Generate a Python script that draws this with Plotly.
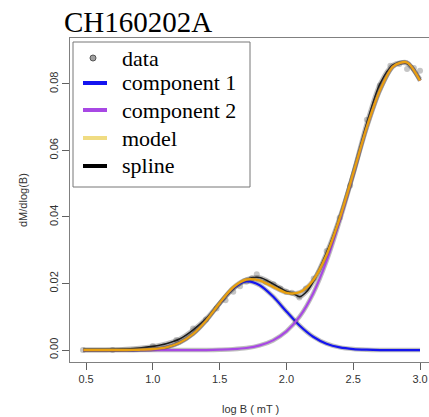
import plotly.graph_objects as go

# ---------------- data ----------------
data_x = [0.477, 0.699, 1.0, 1.176, 1.301, 1.398, 1.477, 1.544, 1.602, 1.653, 1.699,
          1.740, 1.778, 1.845, 1.903, 1.954, 2.0, 2.041, 2.097, 2.146, 2.204, 2.301,
          2.398, 2.477, 2.602, 2.699, 2.778, 2.845, 2.903, 2.954, 3.0]
data_y = [0.0, 0.0, 0.0012, 0.0030, 0.0065, 0.0092, 0.0125, 0.0150, 0.0175, 0.0192, 0.0205,
          0.0215, 0.0228, 0.0205, 0.0198, 0.0185, 0.0175, 0.0172, 0.0158, 0.0185, 0.0215, 0.0298,
          0.0398, 0.0495, 0.0692, 0.0795, 0.0855, 0.0860, 0.0845, 0.0848, 0.0840]

curve_x = [0.48, 0.6, 0.7, 0.8, 0.9, 1.0, 1.1, 1.2, 1.3, 1.4, 1.5, 1.6, 1.7, 1.8, 1.9,
           2.0, 2.1, 2.2, 2.3, 2.4, 2.5, 2.6, 2.7, 2.8, 2.9, 3.0]
comp1_y = [0.0, 0.0, 0.0, 0.0, 0.00007, 0.00026, 0.0008, 0.0022, 0.0048, 0.0089, 0.0140,
           0.0185, 0.0206, 0.0195, 0.0161, 0.0116, 0.0073, 0.0040, 0.0019, 0.0008, 0.0003,
           0.0001, 0.0, 0.0, 0.0, 0.0]
comp2_y = [0.0, 0.0, 0.0, 0.0, 0.0, 0.0, 0.0, 0.0, 0.0, 0.0, 0.0001,
           0.00025, 0.0006, 0.0014, 0.0029, 0.0056, 0.0101, 0.0170, 0.0267, 0.0390, 0.0528,
           0.0667, 0.0781, 0.0853, 0.0865, 0.0810]
model_y = [0.0, 0.0, 0.0, 0.0, 0.0001, 0.0003, 0.0008, 0.0022, 0.0048, 0.0089, 0.0141,
           0.0188, 0.0212, 0.0209, 0.0190, 0.0172, 0.0174, 0.0210, 0.0286, 0.0398, 0.0531,
           0.0668, 0.0781, 0.0853, 0.0865, 0.0810]

spline_x = [0.48, 0.6, 0.7, 0.8, 0.9, 1.0, 1.1, 1.2, 1.3, 1.4, 1.5, 1.6, 1.7, 1.8, 1.9,
            2.0, 2.05, 2.1, 2.15, 2.2, 2.3, 2.4, 2.5, 2.6, 2.7, 2.8, 2.9, 3.0]
spline_y = [0.0, 0.0, 0.0001, 0.0003, 0.0006, 0.0011, 0.0019, 0.0033, 0.0060, 0.0095, 0.0140,
            0.0183, 0.0212, 0.0218, 0.0199, 0.0176, 0.0170, 0.0160, 0.0175, 0.0205, 0.0292,
            0.0400, 0.0530, 0.0680, 0.0800, 0.0858, 0.0862, 0.0815]

x_ticks = [0.5, 1.0, 1.5, 2.0, 2.5, 3.0]
y_ticks = [0.00, 0.02, 0.04, 0.06, 0.08]
legend_labels = ["data", "component 1", "component 2", "model", "spline"]

# ---------------- figure ----------------
W, H = 429, 417
ML, MR, MT, MB = 70, 0, 38, 55
PW, PH = W - ML - MR, H - MT - MB

def px(xp):
    return (xp - ML) / PW

def py(yp):
    return (H - MB - yp) / PH

HALO = "rgba(70,70,70,0.35)"
BLUE = "#1414F0"
PURPLE = "#A848E4"
ORANGE = "#E8A010"
KHAKI = "#F0DC82"

fig = go.Figure()

fig.add_trace(go.Scatter(x=data_x, y=data_y, mode="markers",
                         marker=dict(size=6, color="rgba(150,150,150,0.55)"),
                         hoverinfo="skip"))

def add_curve(xs, ys, color, w=2.2, halo_w=4.5):
    fig.add_trace(go.Scatter(x=xs, y=ys, mode="lines",
                             line=dict(color=HALO, width=halo_w, shape="spline", smoothing=0.8),
                             hoverinfo="skip"))
    fig.add_trace(go.Scatter(x=xs, y=ys, mode="lines",
                             line=dict(color=color, width=w, shape="spline", smoothing=0.8)))

add_curve(spline_x, spline_y, "#1a1a1a", w=1.6, halo_w=4.5)
add_curve(curve_x, comp1_y, BLUE)
add_curve(curve_x, comp2_y, PURPLE)
add_curve(curve_x, model_y, ORANGE, w=2.4, halo_w=4)

shapes = []
annotations = []

# legend box
shapes.append(dict(type="rect", xref="paper", yref="paper",
                   x0=px(73), x1=px(250), y0=py(187), y1=py(42),
                   line=dict(color="#777777", width=1), fillcolor="white", layer="above"))
# legend keys
key_colors = [BLUE, PURPLE, KHAKI, "#000000"]
key_y = [83, 110, 138, 166]
for c, yy in zip(key_colors, key_y):
    shapes.append(dict(type="line", xref="paper", yref="paper",
                       x0=px(83), x1=px(107), y0=py(yy), y1=py(yy),
                       line=dict(color=c, width=4), layer="above"))
shapes.append(dict(type="circle", xref="paper", yref="paper",
                   x0=px(90), x1=px(96), y0=py(61), y1=py(55),
                   line=dict(color="#555555", width=1), fillcolor="#A0A0A0", layer="above"))
text_y = [58, 83, 110, 138, 165]
for lab, yy in zip(legend_labels, text_y):
    annotations.append(dict(text=lab, xref="paper", yref="paper", x=px(120), y=py(yy),
                            xanchor="left", yanchor="middle", showarrow=False,
                            font=dict(family="Liberation Serif", size=22, color="black")))

# title
annotations.append(dict(text="CH160202A", xref="paper", yref="paper", x=px(62), y=py(22),
                        xanchor="left", yanchor="middle", showarrow=False,
                        font=dict(family="Liberation Serif", size=29, color="black")))
# axis titles
annotations.append(dict(text="log B ( mT )", xref="paper", yref="paper", x=px(250), y=py(409),
                        xanchor="center", yanchor="middle", showarrow=False,
                        font=dict(family="Liberation Sans", size=11, color="#333333")))
annotations.append(dict(text="dM/dlog(B)", xref="paper", yref="paper", x=px(23), y=py(200),
                        xanchor="center", yanchor="middle", showarrow=False, textangle=-90,
                        font=dict(family="Liberation Sans", size=11, color="#333333")))

fig.update_layout(
    width=W, height=H,
    margin=dict(l=ML, r=MR, t=MT, b=MB),
    paper_bgcolor="white", plot_bgcolor="white",
    showlegend=False,
    shapes=shapes, annotations=annotations,
    xaxis=dict(range=[0.38, 0.38 + PW / 133.6], tickvals=x_ticks,
               ticktext=[f"{v:.1f}" for v in x_ticks],
               showgrid=False, zeroline=False, showline=True, mirror=True,
               linecolor="#808080", linewidth=1, ticks="outside", ticklen=7,
               tickcolor="#606060",
               tickfont=dict(family="Liberation Sans", size=11, color="#333333")),
    yaxis=dict(range=[-0.0036, -0.0036 + PH / 3326.0], tickvals=y_ticks,
               ticktext=[f"{v:.2f}" for v in y_ticks], tickangle=-90,
               showgrid=False, zeroline=False, showline=True, mirror=False,
               linecolor="#808080", linewidth=1, ticks="outside", ticklen=7,
               tickcolor="#606060",
               tickfont=dict(family="Liberation Sans", size=11, color="#333333")),
)

fig.write_html("out.html")
